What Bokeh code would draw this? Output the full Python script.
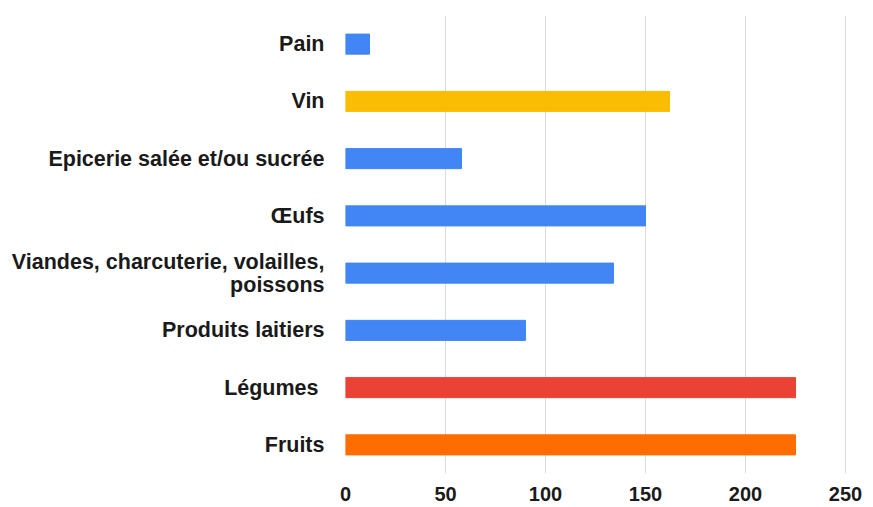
from bokeh.plotting import figure
from bokeh.models import ColumnDataSource, FactorRange
from bokeh.embed import file_html
from bokeh.resources import INLINE

categories = ["Pain", "Vin", "Epicerie salée et/ou sucrée", "Œufs",
              "Viandes, charcuterie, volailles,\npoissons", "Produits laitiers",
              "Légumes ", "Fruits"]
values = [12, 162, 58, 150, 134, 90, 225, 225]
colors = ["#4285F4", "#FBBC04", "#4285F4", "#4285F4", "#4285F4", "#4285F4",
          "#EA4335", "#FF6D01"]
x_ticks = [0, 50, 100, 150, 200, 250]

source = ColumnDataSource(dict(cat=categories, val=values, color=colors))

p = figure(width=865, height=505, output_backend="svg", toolbar_location=None,
           y_range=FactorRange(*categories[::-1], range_padding=0),
           x_range=(0, 258),
           min_border_left=345, min_border_top=15, min_border_right=4,
           min_border_bottom=32)
p.hbar(y="cat", right="val", left=0, height=0.35, color="color", source=source)

p.xaxis.ticker = x_ticks
for ax in (p.xaxis[0], p.yaxis[0]):
    ax.axis_line_color = None
    ax.major_tick_line_color = None
    ax.minor_tick_line_color = None
    ax.major_label_text_font = "Liberation Sans"
    ax.major_label_text_font_style = "bold"
    ax.major_label_text_color = "#1a1a1a"
p.xaxis.major_label_text_font_size = "20px"
p.yaxis.major_label_text_font_size = "21.5px"
p.yaxis.major_label_text_line_height = 0.95
p.xaxis.major_label_standoff = 7
p.yaxis.major_label_standoff = 15
p.xgrid.grid_line_color = "#dcdcdc"
p.ygrid.grid_line_color = None
p.outline_line_color = None

open("out.html", "w").write(file_html(p, INLINE))
